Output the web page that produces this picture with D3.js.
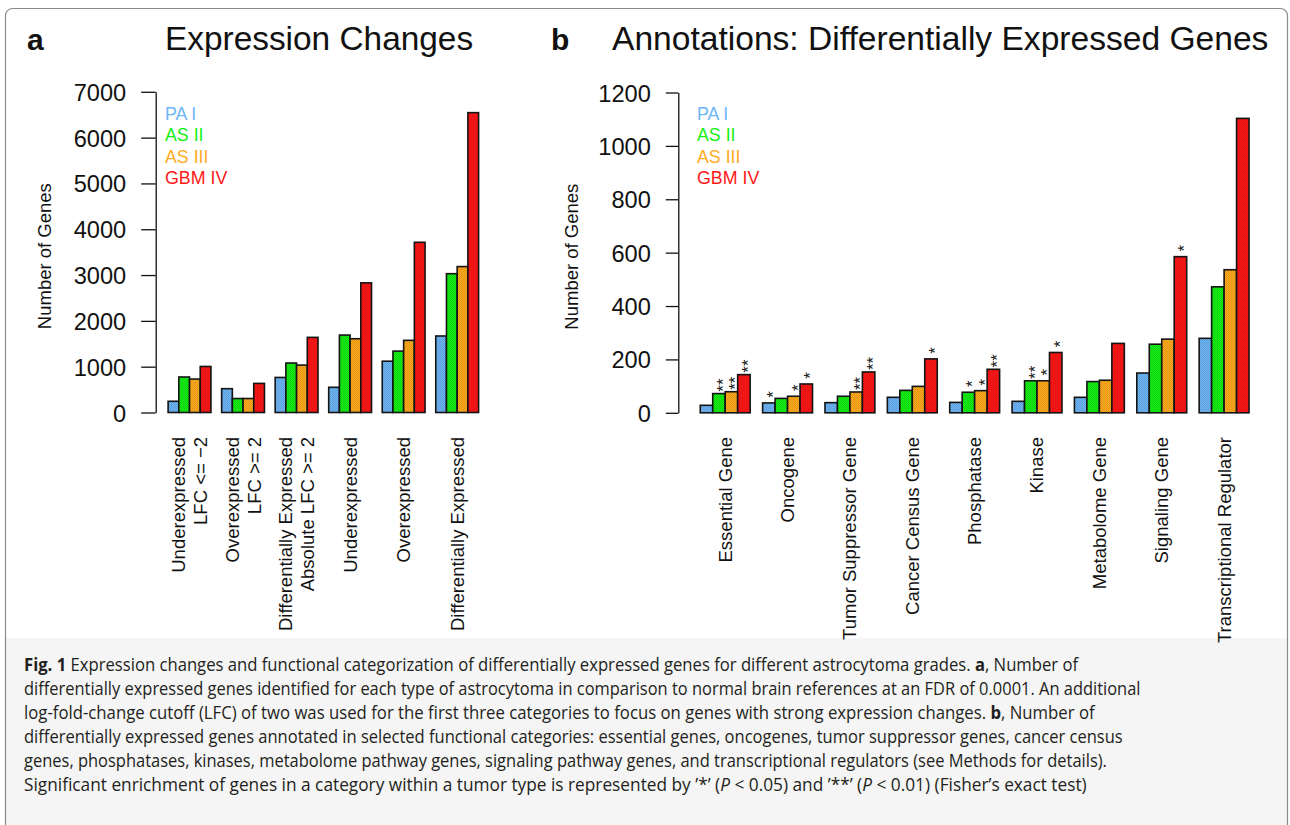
<!DOCTYPE html>
<html>
<head>
<meta charset="utf-8">
<script src="https://cdn.jsdelivr.net/npm/d3@7"></script>
<style>
  html, body { margin: 0; padding: 0; background: #fff; }
  svg { display: block; }
</style>
</head>
<body>
<svg id="fig" width="1290" height="825"></svg>
<script>
// ---- data -------------------------------------------------------------
const series = ["PA I", "AS II", "AS III", "GBM IV"];
const seriesColors = ["#6db6f7", "#14f014", "#ffab1c", "#ff1717"];

// panel a: expression changes
const exprCategories = [
  ["Underexpressed", "LFC <= \u22122"],
  ["Overexpressed", "LFC >= 2"],
  ["Differentially Expressed", "Absolute LFC >= 2"],
  ["Underexpressed"],
  ["Overexpressed"],
  ["Differentially Expressed"]
];
const exprPA1  = [245, 520, 765, 550, 1120, 1670];
const exprAS2  = [775, 305, 1080, 1690, 1340, 3030];
const exprAS3  = [730, 305, 1035, 1610, 1575, 3185];
const exprGBM4 = [1005, 635, 1640, 2830, 3715, 6545];
const exprTicks = [0, 1000, 2000, 3000, 4000, 5000, 6000, 7000];

// panel b: functional annotations of differentially expressed genes
const annotCategories = [
  ["Essential Gene"], ["Oncogene"], ["Tumor Suppressor Gene"], ["Cancer Census Gene"],
  ["Phosphatase"], ["Kinase"], ["Metabolome Gene"], ["Signaling Gene"], ["Transcriptional Regulator"]
];
const annotPA1  = [28, 37, 38, 58, 39, 43, 58, 149, 279];
const annotAS2  = [72, 54, 62, 84, 77, 120, 117, 257, 472];
const annotAS3  = [79, 62, 78, 99, 83, 120, 122, 276, 536];
const annotGBM4 = [143, 108, 153, 202, 163, 226, 260, 585, 1103];
// Fisher's exact test enrichment marks, per category and grade
const annotStars = [
  ["", "**", "**", "**"],
  ["*", "", "*", "*"],
  ["", "", "**", "**"],
  ["", "", "", "*"],
  ["", "*", "*", "**"],
  ["", "**", "*", "*"],
  ["", "", "", ""],
  ["", "", "", "*"],
  ["", "", "", ""]
];
const annotTicks = [0, 200, 400, 600, 800, 1000, 1200];

// caption lines: [text, style] segments
const captionLines = [
  [["Fig. 1", "b"], [" Expression changes and functional categorization of differentially expressed genes for different astrocytoma grades. ", ""], ["a", "b"], [", Number of", ""]],
  [["differentially expressed genes identified for each type of astrocytoma in comparison to normal brain references at an FDR of 0.0001. An additional", ""]],
  [["log-fold-change cutoff (LFC) of two was used for the first three categories to focus on genes with strong expression changes. ", ""], ["b", "b"], [", Number of", ""]],
  [["differentially expressed genes annotated in selected functional categories: essential genes, oncogenes, tumor suppressor genes, cancer census", ""]],
  [["genes, phosphatases, kinases, metabolome pathway genes, signaling pathway genes, and transcriptional regulators (see Methods for details).", ""]],
  [["Significant enrichment of genes in a category within a tumor type is represented by \u2019*\u2019 (", ""], ["P", "i"], [" < 0.05) and \u2019**\u2019 (", ""], ["P", "i"], [" < 0.01) (Fisher\u2019s exact test)", ""]]
];
const captionEnds = [1079, 1141, 1095, 1124, 1107, 1088];

// ---- drawing ------------------------------------------------------------
const svg = d3.select("#fig");
const FONT = "'Liberation Sans', Arial, Helvetica, sans-serif";

const defs = svg.append("defs");
const dither = defs.append("pattern")
  .attr("id", "dither").attr("patternUnits", "userSpaceOnUse")
  .attr("width", 2).attr("height", 2);
dither.append("rect").attr("x", 0).attr("y", 0).attr("width", 1).attr("height", 1).attr("fill", "rgba(0,0,0,0.13)");
dither.append("rect").attr("x", 1).attr("y", 1).attr("width", 1).attr("height", 1).attr("fill", "rgba(0,0,0,0.13)");

// caption panel and outer frame
svg.append("rect").attr("x", 6).attr("y", 638).attr("width", 1281).attr("height", 200).attr("fill", "#f5f5f5");
svg.append("rect")
  .attr("x", 5.5).attr("y", 8.5).attr("width", 1282).attr("height", 900)
  .attr("rx", 7).attr("fill", "none").attr("stroke", "#8c8c8c").attr("stroke-width", 1.2);

function drawPanel(opts) {
  const { cats, data, ticks, yMax, axisX, rightX, y0, yTop, tickLen, stars, legendX } = opts;
  const n = cats.length;
  const outer = 0.04 * (5 * n - 1) / 5;
  const x0 = d3.scaleBand().domain(d3.range(n)).range([axisX, rightX])
    .paddingInner(0.2).paddingOuter(outer);
  const x1 = d3.scaleBand().domain(d3.range(series.length)).range([0, x0.bandwidth()]);
  const y = d3.scaleLinear().domain([0, yMax]).range([y0, yTop]);

  const g = svg.append("g");

  // y axis
  const ax = g.append("g")
    .attr("transform", `translate(${axisX},0)`)
    .call(d3.axisLeft(y).tickValues(ticks).tickSize(tickLen).tickSizeOuter(0).tickPadding(15).tickFormat(d3.format("d")));
  ax.select(".domain").attr("stroke", "#111").attr("stroke-width", 1.3);
  ax.selectAll(".tick line").attr("stroke", "#111").attr("stroke-width", 1.3);
  ax.selectAll(".tick text").attr("font-family", FONT).attr("font-size", 23.6).attr("fill", "#111").attr("dy", "0.36em");

  // y axis title
  g.append("text")
    .attr("transform", `translate(${opts.titleX},${(y0 + yTop) / 2 + 4}) rotate(-90)`)
    .attr("text-anchor", "middle").attr("dy", "0.35em")
    .attr("font-family", FONT).attr("font-size", 18.5).attr("fill", "#111")
    .text("Number of Genes");

  // bars
  const cells = [];
  cats.forEach((c, i) => data.forEach((arr, j) => cells.push({ i, j, v: arr[i] })));
  const bars = g.append("g").selectAll("g").data(cells).join("g");
  bars.append("rect")
    .attr("x", d => x0(d.i) + x1(d.j)).attr("width", x1.bandwidth())
    .attr("y", d => y(d.v)).attr("height", d => y(0) - y(d.v))
    .attr("fill", d => seriesColors[d.j]);
  bars.append("rect")
    .attr("x", d => x0(d.i) + x1(d.j)).attr("width", x1.bandwidth())
    .attr("y", d => y(d.v)).attr("height", d => y(0) - y(d.v))
    .attr("fill", "url(#dither)")
    .attr("stroke", "#141414").attr("stroke-width", 1.6);

  // significance marks
  if (stars) {
    const marks = cells.filter(d => stars[d.i][d.j]);
    g.append("g").selectAll("text").data(marks).join("text")
      .attr("transform", d => `translate(${x0(d.i) + x1(d.j) + x1.bandwidth() / 2},${y(d.v) - 8.5}) rotate(-90)`)
      .attr("text-anchor", "middle").attr("dy", "0.58em")
      .attr("font-family", FONT).attr("font-size", 17).attr("fill", "#1a1a1a")
      .text(d => stars[d.i][d.j]);
  }

  // category labels, rotated
  const lineH = 22;
  cats.forEach((lines, i) => {
    const cx = x0(i) + x0.bandwidth() / 2;
    lines.forEach((t, k) => {
      const off = (k - (lines.length - 1) / 2) * lineH;
      g.append("text")
        .attr("transform", `translate(${cx + off},437) rotate(-90)`)
        .attr("text-anchor", "end").attr("dy", "0.35em")
        .attr("font-family", FONT).attr("font-size", 18.5).attr("fill", "#111")
        .text(t);
    });
  });

  // legend
  g.append("g").selectAll("text").data(series).join("text")
    .attr("x", legendX).attr("y", (d, k) => 119.5 + k * 21.6)
    .attr("font-family", FONT).attr("font-size", 17.8)
    .attr("fill", (d, k) => seriesColors[k])
    .text(d => d);
}

drawPanel({
  cats: exprCategories, data: [exprPA1, exprAS2, exprAS3, exprGBM4],
  ticks: exprTicks, yMax: 7000, axisX: 155.7, rightX: 491, y0: 412.5, yTop: 91.8,
  tickLen: 14.5, stars: null, legendX: 165, titleX: 45
});
drawPanel({
  cats: annotCategories, data: [annotPA1, annotAS2, annotAS3, annotGBM4],
  ticks: annotTicks, yMax: 1200, axisX: 678.3, rightX: 1271, y0: 412.8, yTop: 92.5,
  tickLen: 12.5, stars: annotStars, legendX: 697, titleX: 572
});

// panel letters and titles
svg.append("text").attr("x", 27).attr("y", 50).attr("font-family", FONT)
  .attr("font-weight", "bold").attr("font-size", 30).attr("fill", "#111").text("a");
svg.append("text").attr("x", 551).attr("y", 50).attr("font-family", FONT)
  .attr("font-weight", "bold").attr("font-size", 30).attr("fill", "#111").text("b");
svg.append("text").attr("x", 165).attr("y", 50).attr("font-family", FONT)
  .attr("font-size", 33.4).attr("fill", "#111").text("Expression Changes");
svg.append("text").attr("x", 612).attr("y", 50).attr("font-family", FONT)
  .attr("font-size", 33.6).attr("fill", "#111").text("Annotations: Differentially Expressed Genes");

// caption, each line fitted to its set width
const capX = 24;
captionLines.forEach((segs, k) => {
  const lg = svg.append("g");
  const t = lg.append("text")
    .attr("font-family", "'Open Sans', 'Noto Sans', sans-serif")
    .attr("font-size", 18).attr("fill", "#231f20");
  segs.forEach(([s, st]) => {
    const ts = t.append("tspan").text(s);
    if (st === "b") ts.attr("font-weight", "bold");
    if (st === "i") ts.attr("font-style", "italic");
  });
  const w = t.node().getComputedTextLength();
  const sx = (captionEnds[k] - capX) / w;
  lg.attr("transform", `translate(${capX},${671 + k * 24}) scale(${sx},1)`);
});
</script>
</body>
</html>
